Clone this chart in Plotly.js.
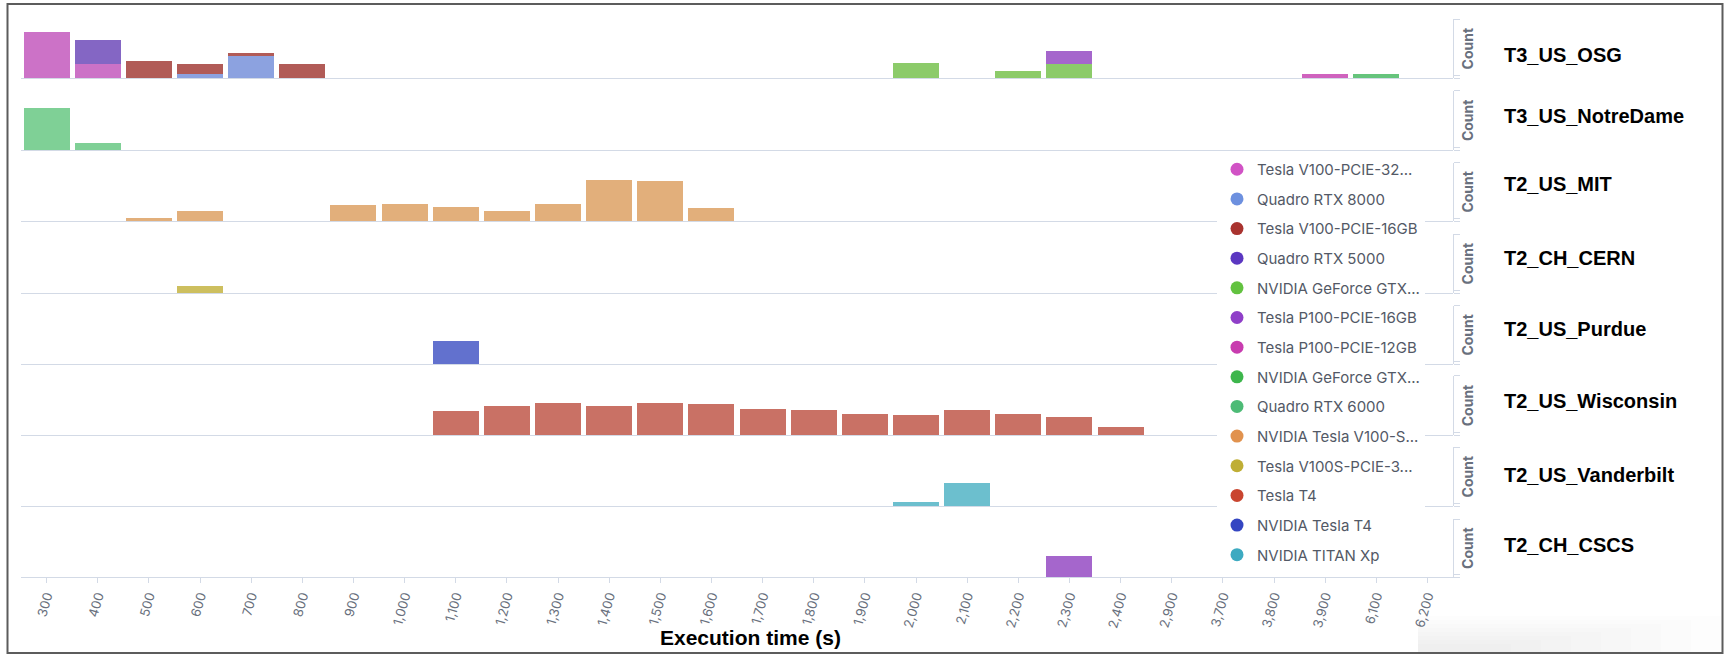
<!DOCTYPE html>
<html>
<head>
<meta charset="utf-8">
<script src="https://cdn.plot.ly/plotly-3.0.1.min.js"></script>
<style>
  html, body { margin: 0; padding: 0; background: #ffffff; }
  #chart { width: 1725px; height: 656px; }
</style>
</head>
<body>
<div id="chart"></div>
<script>
// ---------------- DATA ----------------
const binLabels = ['300','400','500','600','700','800','900','1,000','1,100','1,200','1,300','1,400','1,500','1,600','1,700','1,800','1,900','2,000','2,100','2,200','2,300','2,400','2,900','3,700','3,800','3,900','6,100','6,200'];

const siteNames = ['T3_US_OSG','T3_US_NotreDame','T2_US_MIT','T2_CH_CERN','T2_US_Purdue','T2_US_Wisconsin','T2_US_Vanderbilt','T2_CH_CSCS'];

const gpuNames = ['Tesla V100-PCIE-32...','Quadro RTX 8000','Tesla V100-PCIE-16GB','Quadro RTX 5000','NVIDIA GeForce GTX...','Tesla P100-PCIE-16GB','Tesla P100-PCIE-12GB','NVIDIA GeForce GTX...','Quadro RTX 6000','NVIDIA Tesla V100-S...','Tesla V100S-PCIE-3...','Tesla T4','NVIDIA Tesla T4','NVIDIA TITAN Xp'];

// T3_US_OSG
const osgV100Pcie32Bins = ['300','400'];
const osgV100Pcie32Counts = [39, 12];
const osgRtx8000Bins = ['600','700'];
const osgRtx8000Counts = [4, 19];
const osgV100Pcie16Bins = ['500','600','700','800'];
const osgV100Pcie16Counts = [15, 8, 2, 12];
const osgRtx5000Bins = ['400'];
const osgRtx5000Counts = [20];
const osgGtxBins = ['2,000','2,200','2,300'];
const osgGtxCounts = [13, 6, 12];
const osgP100x16Bins = ['2,300'];
const osgP100x16Counts = [11];
const osgP100x12Bins = ['3,900'];
const osgP100x12Counts = [4];
const osgGtx2Bins = ['6,100'];
const osgGtx2Counts = [4];
// T3_US_NotreDame
const ndRtx6000Bins = ['300','400'];
const ndRtx6000Counts = [35, 6];
// T2_US_MIT
const mitV100sBins = ['500','600','900','1,000','1,100','1,200','1,300','1,400','1,500','1,600'];
const mitV100sCounts = [3, 9, 14, 15, 12, 9, 15, 35, 34, 11];
// T2_CH_CERN
const cernV100sPcieBins = ['600'];
const cernV100sPcieCounts = [6];
// T2_US_Purdue
const purdueNvT4Bins = ['1,100'];
const purdueNvT4Counts = [20];
// T2_US_Wisconsin
const wiscT4Bins = ['1,100','1,200','1,300','1,400','1,500','1,600','1,700','1,800','1,900','2,000','2,100','2,200','2,300','2,400'];
const wiscT4Counts = [20, 25, 27, 25, 27, 26, 22, 21, 18, 17, 21, 18, 15, 7];
// T2_US_Vanderbilt
const vandTitanBins = ['2,000','2,100'];
const vandTitanCounts = [3, 20];
// T2_CH_CSCS
const cscsP100x16Bins = ['2,300'];
const cscsP100x16Counts = [18];

// series per row: [gpu index, bins, counts]
const rowSeries = [
  [[0, osgV100Pcie32Bins, osgV100Pcie32Counts], [1, osgRtx8000Bins, osgRtx8000Counts], [2, osgV100Pcie16Bins, osgV100Pcie16Counts],
   [3, osgRtx5000Bins, osgRtx5000Counts], [4, osgGtxBins, osgGtxCounts], [5, osgP100x16Bins, osgP100x16Counts],
   [6, osgP100x12Bins, osgP100x12Counts], [7, osgGtx2Bins, osgGtx2Counts]],
  [[8, ndRtx6000Bins, ndRtx6000Counts]],
  [[9, mitV100sBins, mitV100sCounts]],
  [[10, cernV100sPcieBins, cernV100sPcieCounts]],
  [[12, purdueNvT4Bins, purdueNvT4Counts]],
  [[11, wiscT4Bins, wiscT4Counts]],
  [[13, vandTitanBins, vandTitanCounts]],
  [[5, cscsP100x16Bins, cscsP100x16Counts]]
];

// ---------------- STYLE ----------------
const dotColors = ['#D152C5','#6D90DF','#A9332F','#5B37C1','#62C23F','#8F3FC8','#C83CAF','#3DB64C','#4DBB76','#E1924E','#BFAE35','#C9452F','#3446C2','#3DAAC1'];
const barColors = ['#CC72C7','#8CA2E0','#B15B57','#8466C4','#8CCB6A','#A566CC','#CF63BE','#66C47C','#7FD096','#E2AF7B','#CDBF5F','#C97165','#6271CE','#6CBFCE'];

const W = 1725, H = 656;
const xLeftPx = 21, xRightPx = 1453;
const rowTopPx = [19, 90.7, 162.7, 234, 305.7, 375.7, 447.3, 519];
const rowBotPx = [78.3, 150, 221, 293.3, 364, 435.3, 506, 577.3];
const labelYPx = [54.5, 116, 183.5, 257.5, 328.5, 401, 475, 545];
const axisGray = '#D3DAE6';
const textGray = '#69707D';
const nRows = siteNames.length;

const px2x = p => p / W;
const px2y = p => 1 - p / H;

// ---------------- TRACES ----------------
const traces = [];
gpuNames.forEach((n, i) => {
  traces.push({
    type: 'scatter', mode: 'markers', x: [null], y: [null], name: n,
    legendgroup: 'g' + i, showlegend: true, hoverinfo: 'skip',
    marker: { color: dotColors[i], size: 13, symbol: 'circle' },
    xaxis: 'x', yaxis: 'y'
  });
});
rowSeries.forEach((series, r) => {
  series.forEach(([g, bins, counts]) => {
    traces.push({
      type: 'bar', x: bins, y: counts, name: gpuNames[g],
      legendgroup: 'g' + g, showlegend: false,
      marker: { color: barColors[g], line: { width: 0 } },
      xaxis: 'x', yaxis: r === 0 ? 'y' : 'y' + (r + 1)
    });
  });
});

// ---------------- LAYOUT ----------------
const shapes = [];
// soft grey shading at the bottom-right of the screenshot (layered for a gradient look)
for (let k = 0; k < 8; k++) {
  shapes.push({ type: 'rect', xref: 'paper', yref: 'paper', layer: 'below',
    x0: px2x(1418), x1: px2x(1721 - k * 30), y0: px2y(652), y1: px2y(616 + k * 4),
    line: { width: 0 }, fillcolor: 'rgba(0,0,0,0.009)' });
}
shapes.push({ type: 'rect', xref: 'paper', yref: 'paper',
  x0: px2x(7.5), x1: px2x(1722.5), y0: px2y(653), y1: px2y(4),
  line: { color: '#5c5c5c', width: 2 }, fillcolor: 'rgba(0,0,0,0)' });

const layout = {
  width: W, height: H,
  margin: { l: 0, r: 0, t: 0, b: 0 },
  paper_bgcolor: '#ffffff', plot_bgcolor: 'rgba(0,0,0,0)',
  barmode: 'stack', bargap: 0.1,
  font: { family: 'Inter, "Open Sans", sans-serif', color: textGray },
  xaxis: {
    domain: [px2x(xLeftPx), px2x(xRightPx)],
    anchor: 'y8',
    type: 'category', categoryorder: 'array', categoryarray: binLabels,
    range: [-0.5, binLabels.length - 0.5],
    tickmode: 'array', tickvals: binLabels, ticktext: binLabels,
    showline: true, linecolor: axisGray, linewidth: 1,
    ticks: 'outside', ticklen: 5, tickcolor: axisGray,
    ticklabelstandoff: 0,
    tickangle: -74,
    tickfont: { family: 'Inter, sans-serif', size: 13, color: textGray },
    showgrid: false, zeroline: false, fixedrange: true
  },
  legend: {
    x: px2x(1217), xanchor: 'left',
    y: px2y(153), yanchor: 'top',
    bgcolor: '#ffffff', borderwidth: 0,
    font: { family: 'Inter, sans-serif', size: 15, color: '#535966' },
    tracegroupgap: 7.15,
    traceorder: 'grouped',
    itemclick: false, itemdoubleclick: false
  },
  shapes: shapes,
  annotations: [],
  showlegend: true
};

siteNames.forEach((s, r) => {
  const id = r === 0 ? '' : String(r + 1);
  // main axis: right side, with "Count" title
  layout['yaxis' + id] = {
    domain: [px2y(rowBotPx[r]), px2y(rowTopPx[r])],
    anchor: 'x', side: 'right',
    range: [0, 50],
    showline: true, linecolor: axisGray, linewidth: 1,
    ticks: 'outside', ticklen: 6, tickcolor: axisGray,
    tickmode: 'array', tickvals: [0, 2.5, 50],
    showticklabels: false, showgrid: false,
    zeroline: true, zerolinecolor: axisGray, zerolinewidth: 1,
    fixedrange: true,
    title: { text: 'Count', standoff: 4,
      font: { family: 'Inter, sans-serif', size: 14, color: textGray, weight: 700 } }
  };
  // left bracket axis (overlay, no data)
  const oid = String(nRows + r + 1);
  layout['yaxis' + oid] = {
    overlaying: 'y' + id, anchor: 'x', side: 'left',
    range: [0, 50],
    showline: true, linecolor: axisGray, linewidth: 1,
    ticks: 'outside', ticklen: 6, tickcolor: axisGray,
    tickmode: 'array', tickvals: [0, 50],
    showticklabels: false, showgrid: false, zeroline: false,
    fixedrange: true
  };
  layout.annotations.push({
    xref: 'paper', yref: 'paper', x: px2x(1502), y: px2y(labelYPx[r]),
    xanchor: 'left', yanchor: 'middle', showarrow: false, text: s,
    font: { family: '"Liberation Sans", Arial, sans-serif', size: 20, color: '#000000', weight: 700 }
  });
});

layout.annotations.push({
  xref: 'paper', yref: 'paper', x: px2x(750), y: px2y(637),
  xanchor: 'center', yanchor: 'middle', showarrow: false,
  text: 'Execution time (s)',
  font: { family: '"Liberation Sans", Arial, sans-serif', size: 21, color: '#000000', weight: 700 }
});

Plotly.newPlot('chart', traces, layout, { displayModeBar: false, staticPlot: true });
</script>
</body>
</html>
